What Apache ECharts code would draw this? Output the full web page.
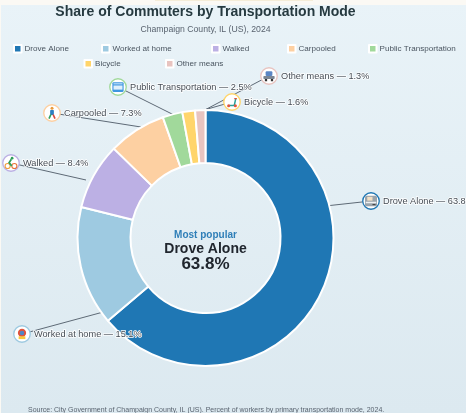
<!DOCTYPE html>
<html>
<head>
<meta charset="utf-8">
<style>html,body{margin:0;padding:0;background:#fbf9f4}#chart{width:466px;height:413px}</style>
<script src="https://cdn.jsdelivr.net/npm/echarts@6/dist/echarts.min.js"></script>
</head>
<body>
<div id="chart"></div>
<script>
// Commuter mode shares, Champaign County
const modes = ['Drove Alone', 'Worked at home', 'Walked', 'Carpooled', 'Public Transportation', 'Bicycle', 'Other means'];
const shares = [63.8, 15.1, 8.4, 7.3, 2.5, 1.6, 1.3];
const colors = ['#1f77b4', '#9ecae1', '#bcb0e4', '#fdd0a2', '#a1d99b', '#ffd56b', '#e8c4c0'];

// Legend swatch placement, one [left, top] per mode
const legendSpots = [[13, 44], [101, 44], [211, 44], [287, 44], [368, 44], [83.5, 59], [165, 59]];

// Callout placement: icon centre and where the leader meets the ring
const callouts = [
  { icon: [371, 201], anchor: [307, 208] },
  { icon: [22, 334], anchor: [107, 311] },
  { icon: [11, 163], anchor: [86, 180] },
  { icon: [52, 113], anchor: [141, 127] },
  { icon: [118, 87], anchor: [176, 116] },
  { icon: [232, 102], anchor: [190, 114] },
  { icon: [269, 76], anchor: [201, 112] }
];

// Small pictograms, one per mode, drawn on a white disc with a coloured ring
const glyphs = [
  '<rect x="4" y="5" width="16" height="14" rx="2" fill="#9aa3ab"/><rect x="7" y="6.5" width="7" height="5" fill="#f1dfc4"/><rect x="5" y="13" width="14" height="2" fill="#eef1f3"/><rect x="14" y="16" width="4" height="1.5" fill="#444"/>',
  '<circle cx="12" cy="10.5" r="5.5" fill="#e0533d"/><circle cx="12" cy="10.5" r="3" fill="#4f86c6"/><rect x="7.5" y="15" width="9" height="3.8" fill="#f7c93e"/>',
  '<circle cx="7.5" cy="16" r="3.4" fill="none" stroke="#f0a03e" stroke-width="1.5"/><circle cx="16.5" cy="16" r="3.4" fill="none" stroke="#e8743b" stroke-width="1.5"/><path d="M12.5 7l-3 4.5 3.5 4.5" stroke="#2e9e5b" stroke-width="2.4" fill="none"/><circle cx="13.5" cy="5.5" r="1.8" fill="#2e9e5b"/>',
  '<circle cx="12" cy="5.5" r="2" fill="#e89a3c"/><rect x="9.5" y="8" width="5" height="6.5" rx="1" fill="#2f7fc1"/><path d="M10.5 14l-2.5 5.5" stroke="#2e9e5b" stroke-width="2.2"/><path d="M13.5 14l2.5 5.5" stroke="#d9483b" stroke-width="2.2"/>',
  '<rect x="4.5" y="5.5" width="15" height="13" rx="1.5" fill="#3f97e0"/><rect x="6" y="10" width="12" height="5.5" fill="#dff0fb"/><rect x="6" y="7" width="12" height="1.5" fill="#bfe0f7"/>',
  '<path d="M8 16.5h7l2-9" stroke="#2aa198" stroke-width="2" fill="none"/><path d="M15 7.5h3.5" stroke="#e0533d" stroke-width="1.6"/><circle cx="7.5" cy="17" r="2" fill="#e0533d"/><circle cx="16.5" cy="17" r="2" fill="#e0533d"/>',
  '<rect x="7.5" y="5.5" width="9" height="6.5" rx="1.5" fill="#5b86c4"/><rect x="4.5" y="12" width="15" height="4" rx="1" fill="#7c8794"/><rect x="6.5" y="16" width="3" height="3" fill="#333"/><rect x="14.5" y="16" width="3" height="3" fill="#333"/>'
];

function iconUrl(i) {
  const svg = '<svg xmlns="http://www.w3.org/2000/svg" width="24" height="24" viewBox="0 0 24 24">' +
    '<circle cx="12" cy="12" r="11" fill="#ffffff" stroke="' + colors[i] + '" stroke-width="1.8"/>' + glyphs[i] + '</svg>';
  return 'data:image/svg+xml;charset=utf-8,' + encodeURIComponent(svg);
}

const font = '"Liberation Sans", Arial, sans-serif';
const chart = echarts.init(document.getElementById('chart'), null, { renderer: 'canvas' });

const richStyles = {
  txt: { fontFamily: font, fontSize: 9.2, color: '#444c55', padding: [0, 0, 0, 3], textBorderColor: '#ffffff', textBorderWidth: 1.5 }
};
modes.forEach((m, i) => {
  richStyles['ic' + i] = { width: 18, height: 18, backgroundColor: { image: iconUrl(i) } };
});

const leader = shares.indexOf(Math.max(...shares));

chart.setOption({
  animation: false,
  backgroundColor: {
    type: 'linear', x: 0, y: 0, x2: 0, y2: 1,
    colorStops: [{ offset: 0, color: '#e9f3f8' }, { offset: 1, color: '#dce9f0' }]
  },
  title: [
    {
      text: 'Share of Commuters by Transportation Mode', left: 205.5, top: 5, padding: 0, textAlign: 'center',
      textStyle: { fontFamily: font, fontSize: 14, fontWeight: 'bold', color: '#263a40' }
    },
    {
      text: 'Champaign County, IL (US), 2024', left: 205.5, top: 25, padding: 0, textAlign: 'center',
      textStyle: { fontFamily: font, fontSize: 8.7, fontWeight: 'normal', color: '#5a6470' }
    },
    {
      text: 'Source: City Government of Champaign County, IL (US). Percent of workers by primary transportation mode, 2024.',
      left: 28, top: 406.5, padding: 0,
      textStyle: { fontFamily: font, fontSize: 7, fontWeight: 'normal', color: '#5a6470' }
    }
  ],
  legend: modes.map((m, i) => ({
    data: [m], left: legendSpots[i][0], top: legendSpots[i][1],
    itemWidth: 7.5, itemHeight: 7.5, itemGap: 0, padding: 0, icon: 'rect',
    selectedMode: false,
    textStyle: { fontFamily: font, fontSize: 8.1, color: '#4a5560', padding: [0, 0, 0, -2] }
  })),
  graphic: [
    { type: 'rect', shape: { x: 0, y: 0, width: 466, height: 5 }, style: { fill: '#fbf9f4' }, silent: true },
    { type: 'rect', shape: { x: 155, y: 0, width: 158, height: 1 }, style: { fill: '#f5edd8' }, silent: true },
    { type: 'rect', shape: { x: 0, y: 0, width: 1, height: 413 }, style: { fill: '#fbf9f4' }, silent: true },
    {
      type: 'text', x: 205.5, y: 230,
      style: { text: 'Most popular', fontFamily: font, fontSize: 10, fontWeight: 'bold', fill: '#2f7fb8', textAlign: 'center' },
      silent: true
    },
    {
      type: 'text', x: 205.5, y: 242.5,
      style: { text: modes[leader], fontFamily: font, fontSize: 14, fontWeight: 'bold', fill: '#20262e', textAlign: 'center' },
      silent: true
    },
    {
      type: 'text', x: 205.5, y: 256,
      style: { text: shares[leader].toFixed(1) + '%', fontFamily: font, fontSize: 17, fontWeight: 'bold', fill: '#20262e', textAlign: 'center' },
      silent: true
    }
  ],
  series: [{
    type: 'pie',
    center: [205.5, 238],
    radius: [75, 128],
    startAngle: 90,
    clockwise: true,
    avoidLabelOverlap: false,
    itemStyle: { borderColor: '#ffffff', borderWidth: 2 },
    color: colors,
    emphasis: { disabled: true },
    data: modes.map((m, i) => ({ name: m, value: shares[i] })),
    label: {
      show: true,
      position: 'outside',
      overflow: 'none',
      formatter: p => '{ic' + p.dataIndex + '|}{txt|' + p.name + ' — ' + p.value.toFixed(1) + '%}',
      rich: richStyles
    },
    labelLine: { show: true, lineStyle: { color: '#5e6a76', width: 1 } },
    labelLayout: p => {
      const c = callouts[p.dataIndex];
      return {
        x: c.icon[0] - 9, y: c.icon[1], align: 'left', verticalAlign: 'middle',
        hideOverlap: false, moveOverlap: false,
        labelLinePoints: [c.anchor, c.anchor, c.icon]
      };
    }
  }]
});
</script>
</body>
</html>
